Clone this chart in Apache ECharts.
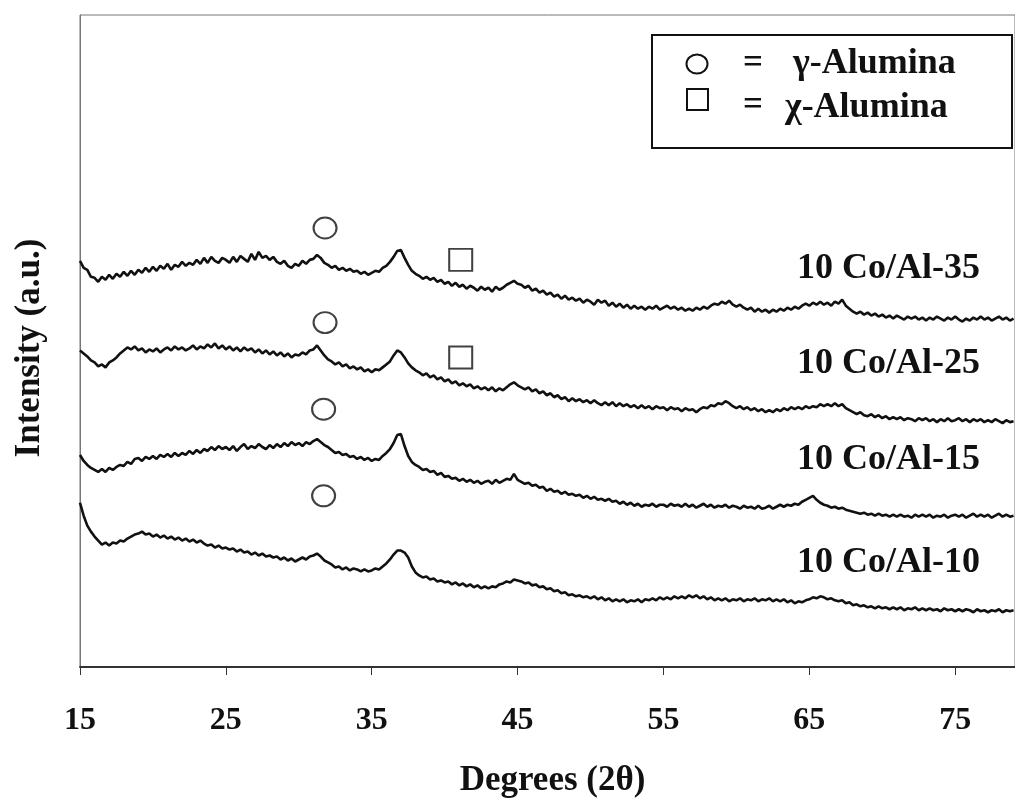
<!DOCTYPE html>
<html>
<head>
<meta charset="utf-8">
<script src="https://cdn.jsdelivr.net/npm/echarts@6.0.0/dist/echarts.min.js"></script>
<style>
  html, body { margin: 0; padding: 0; background: #fff; }
  #main { width: 1015px; height: 803px; }
</style>
</head>
<body>
<div id="main"></div>
<script>
// 2-theta sampling of the scans
const START = 15;
const STEP = 0.25;
const tickLabels = [15, 25, 35, 45, 55, 65, 75];

// intensities (a.u., offset stacked), one value per 0.25 deg
const coAl35 = [
  408,401,399,392, 391,387,392,389, 394,390,395,392, 397,393,398,394,
  399,396,401,397, 402,398,403,400, 405,399,404,402, 407,403,406,404,
  409,405,411,406, 412,408,406,411, 409,406,412,407, 413,410,407,415,
  409,417,411,413, 409,412,407,405, 408,403,401,405, 403,408,405,409,
  410,414,411,406, 404,401,403,399, 401,398,400,397, 398,395,397,394,
  396,398,397,401, 403,407,412,418, 419,411,404,398, 395,393,390,392,
  389,391,387,389, 385,387,383,386, 382,384,380,383, 381,378,382,379,
  381,377,382,379, 381,384,386,388, 385,384,381,383, 378,380,376,378,
  374,376,372,374, 370,373,369,371, 368,370,366,369, 367,364,369,366,
  368,363,366,362, 365,361,364,360, 363,360,362,359, 362,360,363,359,
  361,363,360,362, 359,361,358,360, 358,361,359,362, 360,363,365,364,
  367,365,368,364, 362,364,361,359, 361,357,360,357, 359,356,359,357,
  360,358,361,359, 362,360,363,365, 363,366,364,367, 364,366,363,367,
  365,369,363,360, 357,355,357,354, 356,353,355,352, 354,351,353,350,
  353,351,349,352, 350,352,349,351, 348,351,349,352, 350,348,351,349,
  352,349,347,350, 348,351,349,352, 349,351,348,350, 352,349,351,348,
  350
];
const coAl25 = [
  318,315,312,308, 306,302,304,301, 306,308,311,315, 318,321,319,322,
  318,320,316,319, 317,320,316,319, 321,318,322,319, 321,318,320,323,
  319,322,320,324, 321,325,320,323, 319,322,318,321, 317,321,318,320,
  316,319,315,318, 314,317,313,316, 312,315,311,314, 313,316,314,318,
  319,323,318,313, 309,307,304,306, 302,304,300,302, 299,301,297,299,
  296,299,298,301, 304,307,313,318, 316,311,305,301, 298,296,293,295,
  291,293,289,291, 287,289,285,287, 283,285,282,284, 280,282,279,281,
  278,281,277,280, 278,281,284,286, 283,281,279,281, 277,279,275,277,
  273,275,271,273, 269,271,267,270, 267,269,266,268, 265,268,265,263,
  266,263,266,262, 265,262,264,261, 263,260,263,260, 262,259,262,260,
  261,258,261,259, 260,257,260,258, 259,256,259,261, 260,263,262,265,
  264,267,265,262, 260,262,259,261, 258,260,257,259, 256,258,256,259,
  257,260,258,261, 259,261,259,262, 260,262,261,264, 262,264,262,265,
  262,264,260,258, 256,254,256,253, 252,254,251,253, 250,252,249,251,
  249,251,248,250, 249,247,250,248, 250,247,249,246, 249,247,250,247,
  248,250,247,249, 246,249,247,249, 246,248,246,249, 247,245,248,246,
  247
];
const coAl15 = [
  213,207,203,200, 198,196,199,196, 200,198,201,203, 202,206,204,209,
  210,207,211,209, 212,209,213,211, 214,211,215,212, 215,213,217,214,
  218,215,219,217, 221,218,222,219, 221,218,222,217, 221,224,219,222,
  220,224,221,219, 223,220,224,221, 225,222,226,223, 225,222,226,224,
  227,229,226,223, 221,218,215,216, 213,214,211,212, 209,211,208,210,
  207,209,208,212, 215,219,225,233, 234,222,212,206, 203,201,198,199,
  196,197,193,195, 191,192,189,190, 187,189,186,188, 185,187,184,186,
  187,184,188,185, 187,189,188,194, 188,186,184,185, 182,183,180,181,
  177,179,176,177, 174,176,173,174, 172,173,170,172, 169,171,168,169,
  167,169,166,167, 164,166,163,165, 162,164,161,163, 162,164,161,163,
  163,161,164,162, 163,161,164,161, 163,160,162,164, 161,163,160,162,
  161,163,160,162, 161,159,162,160, 161,159,162,159, 160,162,159,161,
  163,161,163,162, 164,163,166,168, 170,172,168,165, 163,162,160,161,
  159,160,158,157, 156,155,154,155, 153,154,152,154, 152,153,151,153,
  151,153,151,152, 150,153,151,153, 151,153,150,152, 151,153,150,152,
  153,151,153,150, 152,154,151,153, 151,153,150,152, 154,151,153,151,
  152
];
const coAl10 = [
  165,152,142,136, 131,127,123,125, 122,125,124,127, 126,129,131,133,
  134,136,133,134, 131,133,130,132, 129,131,128,130, 127,129,126,128,
  125,127,124,122, 123,120,122,119, 120,118,119,116, 118,115,116,113,
  115,112,114,111, 112,110,111,108, 110,107,109,106, 108,110,108,111,
  112,114,111,107, 105,103,100,101, 98,100,97,99, 98,96,98,96,
  97,99,98,101, 104,108,113,117, 117,115,110,101, 95,92,90,91,
  88,89,86,87, 85,86,83,85, 82,84,81,83, 80,82,79,81,
  79,81,80,83, 84,86,85,88, 87,86,84,85, 82,83,80,81,
  78,79,76,77, 74,75,72,73, 71,72,70,71, 69,71,68,70,
  67,69,66,68, 66,68,65,67, 66,68,65,68, 67,69,67,70,
  68,70,68,71, 69,71,69,72, 70,72,69,71, 68,70,67,69,
  67,69,66,68, 67,69,66,68, 67,69,66,68, 67,69,66,68,
  66,68,65,67, 64,66,65,67, 68,70,69,71, 70,68,69,67,
  66,67,64,65, 62,63,61,62, 60,61,59,61, 59,60,58,60,
  58,60,57,59, 58,60,57,59, 57,59,57,58, 56,59,57,58,
  56,58,56,58, 57,55,58,56, 57,55,57,56, 58,55,57,56,
  57
];

// peak markers [2theta, intensity]
const gammaPeaks = [[31.8, 441], [31.8, 346], [31.7, 259], [31.7, 172]];
const chiPeaks = [[41.1, 409], [41.1, 311]];

const seriesNames = ['10 Co/Al-35', '10 Co/Al-25', '10 Co/Al-15', '10 Co/Al-10'];
const seriesValues = [coAl35, coAl25, coAl15, coAl10];

const FONT = '"Liberation Serif", "Times New Roman", serif';
const INK = '#111';

function toPoints(values) {
  return values.map((v, i) => [START + i * STEP, v]);
}

const lineSeries = seriesValues.map((vals, k) => ({
  name: seriesNames[k],
  type: 'line',
  data: toPoints(vals),
  showSymbol: false,
  lineStyle: { color: INK, width: 2.6 },
  z: 2
}));

const myChart = echarts.init(document.getElementById('main'), null, { renderer: 'canvas' });

const option = {
  animation: false,
  backgroundColor: '#fff',
  grid: {
    left: 80, top: 15, bottom: 133, right: 0,
    show: true, borderColor: '#777', borderWidth: 1
  },
  xAxis: {
    type: 'value',
    min: 15,
    max: 79.1,
    name: 'Degrees (2θ)',
    nameLocation: 'middle',
    nameGap: 96,
    nameTextStyle: { fontFamily: FONT, fontSize: 35, fontWeight: 'bold', color: INK, padding: [0, 0, 0, 10] },
    axisLine: { show: true, lineStyle: { color: '#333', width: 2 } },
    axisTick: { show: true, length: 8, customValues: tickLabels, lineStyle: { color: '#333', width: 1 } },
    axisLabel: {
      customValues: tickLabels,
      margin: 38,
      fontFamily: FONT, fontSize: 32, fontWeight: 'bold', color: INK
    },
    splitLine: { show: false }
  },
  yAxis: {
    type: 'value',
    min: 0,
    max: 655,
    name: 'Intensity (a.u.)',
    nameLocation: 'middle',
    nameGap: 33,
    nameTextStyle: { fontFamily: FONT, fontSize: 35, fontWeight: 'bold', color: INK, padding: [0, 14, 0, 0] },
    axisLine: { show: true, lineStyle: { color: '#777', width: 1 } },
    axisTick: { show: false },
    axisLabel: { show: false },
    splitLine: { show: false }
  },
  series: [
    ...lineSeries,
    {
      type: 'scatter',
      data: gammaPeaks,
      symbol: 'circle',
      symbolSize: [23, 21],
      itemStyle: { color: '#fff', borderColor: INK, borderWidth: 2 },
      z: 5
    },
    {
      type: 'scatter',
      data: chiPeaks,
      symbol: 'rect',
      symbolSize: [23, 22],
      itemStyle: { color: '#fff', borderColor: INK, borderWidth: 2 },
      z: 5
    }
  ],
  graphic: [
    // sample labels
    { type: 'text', x: 797, y: 269, z: 10, style: { text: seriesNames[0], font: 'bold 36px ' + FONT, fill: INK, verticalAlign: 'middle' } },
    { type: 'text', x: 797, y: 364, z: 10, style: { text: seriesNames[1], font: 'bold 36px ' + FONT, fill: INK, verticalAlign: 'middle' } },
    { type: 'text', x: 797, y: 460, z: 10, style: { text: seriesNames[2], font: 'bold 36px ' + FONT, fill: INK, verticalAlign: 'middle' } },
    { type: 'text', x: 797, y: 563, z: 10, style: { text: seriesNames[3], font: 'bold 36px ' + FONT, fill: INK, verticalAlign: 'middle' } },
    // key box
    { type: 'rect', z: 10, shape: { x: 652, y: 35, width: 360, height: 113 }, style: { fill: '#fff', stroke: INK, lineWidth: 2 } },
    { type: 'ellipse', z: 11, shape: { cx: 697, cy: 64, rx: 10.5, ry: 9.5 }, style: { fill: '#fff', stroke: INK, lineWidth: 2 } },
    { type: 'rect', z: 11, shape: { x: 687, y: 89, width: 21, height: 21 }, style: { fill: '#fff', stroke: INK, lineWidth: 2 } },
    { type: 'text', x: 753, y: 64, z: 11, style: { text: '=', font: 'bold 35px ' + FONT, fill: INK, align: 'center', verticalAlign: 'middle' } },
    { type: 'text', x: 753, y: 106, z: 11, style: { text: '=', font: 'bold 35px ' + FONT, fill: INK, align: 'center', verticalAlign: 'middle' } },
    { type: 'text', x: 793, y: 64, z: 11, style: { text: 'γ-Alumina', font: 'bold 36px ' + FONT, fill: INK, verticalAlign: 'middle' } },
    { type: 'text', x: 785, y: 108, z: 11, style: { text: 'χ-Alumina', font: 'bold 36px ' + FONT, fill: INK, verticalAlign: 'middle' } }
  ]
};

option && myChart.setOption(option);
</script>
</body>
</html>
